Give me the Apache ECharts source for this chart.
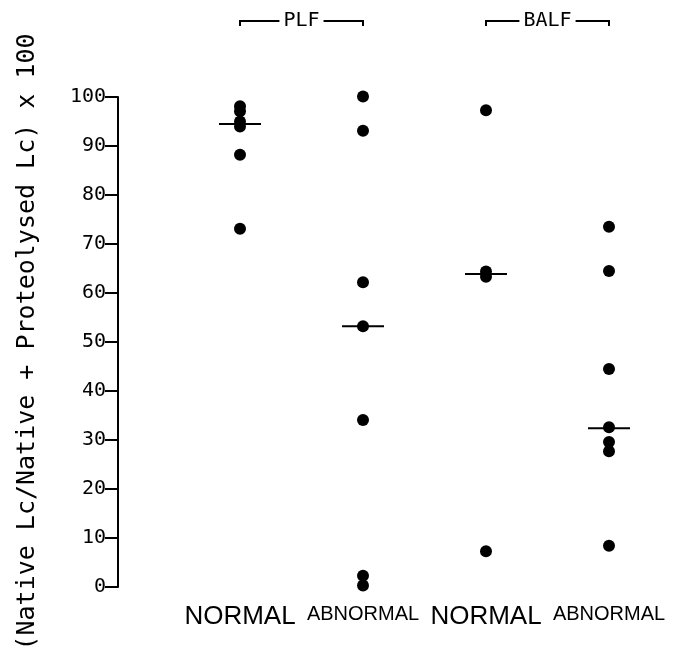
<!DOCTYPE html>
<html><head><meta charset="utf-8">
<script src="https://cdn.jsdelivr.net/npm/echarts@6/dist/echarts.min.js"></script>
<style>html,body{margin:0;padding:0;background:#fff}#c{width:686px;height:658px}</style>
</head><body><div id="c"></div>
<script>
const categories = ['PLF NORMAL', 'PLF ABNORMAL', 'BALF NORMAL', 'BALF ABNORMAL'];
const groupNames = ['PLF', 'BALF'];
const plfNormal = [98.1, 97.1, 95.0, 94.0, 88.2, 73.1];
const plfAbnormal = [100.1, 93.1, 62.2, 53.2, 34.1, 2.3, 0.3];
const balfNormal = [97.3, 64.4, 63.3, 7.3];
const balfAbnormal = [73.5, 64.5, 44.5, 32.6, 29.6, 27.7, 8.4];
const medians = [94.5, 53.2, 63.9, 32.4];
const yMin = 0, yMax = 100, yStep = 10;
const yTitle = '(Native Lc/Native + Proteolysed Lc) x 100';

const groupsData = [plfNormal, plfAbnormal, balfNormal, balfAbnormal];
const pointData = [];
groupsData.forEach((arr, i) => arr.forEach(v => pointData.push([i, v])));
const medianData = medians.map((v, i) => [i, v]);

const chart = echarts.init(document.getElementById('c'), null, {renderer: 'canvas'});
const ink = '#000';
chart.setOption({
  animation: false,
  backgroundColor: '#fff',
  grid: {left: 178.5, right: 15.5, top: 97, bottom: 71},
  xAxis: {
    type: 'category',
    data: categories,
    boundaryGap: true,
    axisLine: {show: false},
    axisTick: {show: false},
    axisLabel: {
      margin: 17,
      interval: 0,
      formatter: v => v.indexOf('ABNORMAL') >= 0 ? '{a|ABNORMAL}' : '{n|NORMAL}',
      rich: {
        n: {fontFamily: 'Liberation Sans', fontSize: 26, color: ink},
        a: {fontFamily: 'Liberation Sans', fontSize: 20, color: ink}
      }
    },
    splitLine: {show: false}
  },
  yAxis: {
    type: 'value',
    min: yMin, max: yMax, interval: yStep,
    offset: 60.5,
    name: yTitle,
    nameLocation: 'middle',
    nameGap: 78,
    nameTextStyle: {fontFamily: 'DejaVu Sans Mono', fontSize: 25, color: ink},
    axisLine: {show: true, lineStyle: {color: ink, width: 2}},
    axisTick: {show: true, length: 13, lineStyle: {color: ink, width: 2}},
    axisLabel: {margin: 12, fontFamily: 'DejaVu Sans Mono', fontSize: 20, color: ink},
    splitLine: {show: false}
  },
  series: [
    {
      type: 'scatter', name: 'median', data: medianData, clip: false,
      symbol: 'rect', symbolSize: [42, 2],
      itemStyle: {color: ink, opacity: 1}, z: 2
    },
    {
      type: 'scatter', name: 'values', data: pointData, clip: false,
      symbol: 'circle', symbolSize: 12,
      itemStyle: {color: ink, opacity: 1}, z: 3
    }
  ]
});

// group brackets above the plot, positioned through the axis scale
const bracketY = 21, tickDown = 5;
const graphics = [];
groupNames.forEach((g, gi) => {
  const x0 = chart.convertToPixel({xAxisIndex: 0}, gi * 2);
  const x1 = chart.convertToPixel({xAxisIndex: 0}, gi * 2 + 1);
  graphics.push({
    type: 'polyline',
    shape: {points: [[x0, bracketY + tickDown], [x0, bracketY], [x1, bracketY], [x1, bracketY + tickDown]]},
    style: {stroke: ink, lineWidth: 2, fill: null}
  });
  graphics.push({
    type: 'text',
    x: (x0 + x1) / 2, y: bracketY,
    style: {
      text: g, fontFamily: 'DejaVu Sans Mono', fontSize: 20, fill: ink,
      align: 'center', verticalAlign: 'middle',
      backgroundColor: '#fff', padding: [0, 4]
    }
  });
});
chart.setOption({graphic: graphics});
</script>
</body></html>
